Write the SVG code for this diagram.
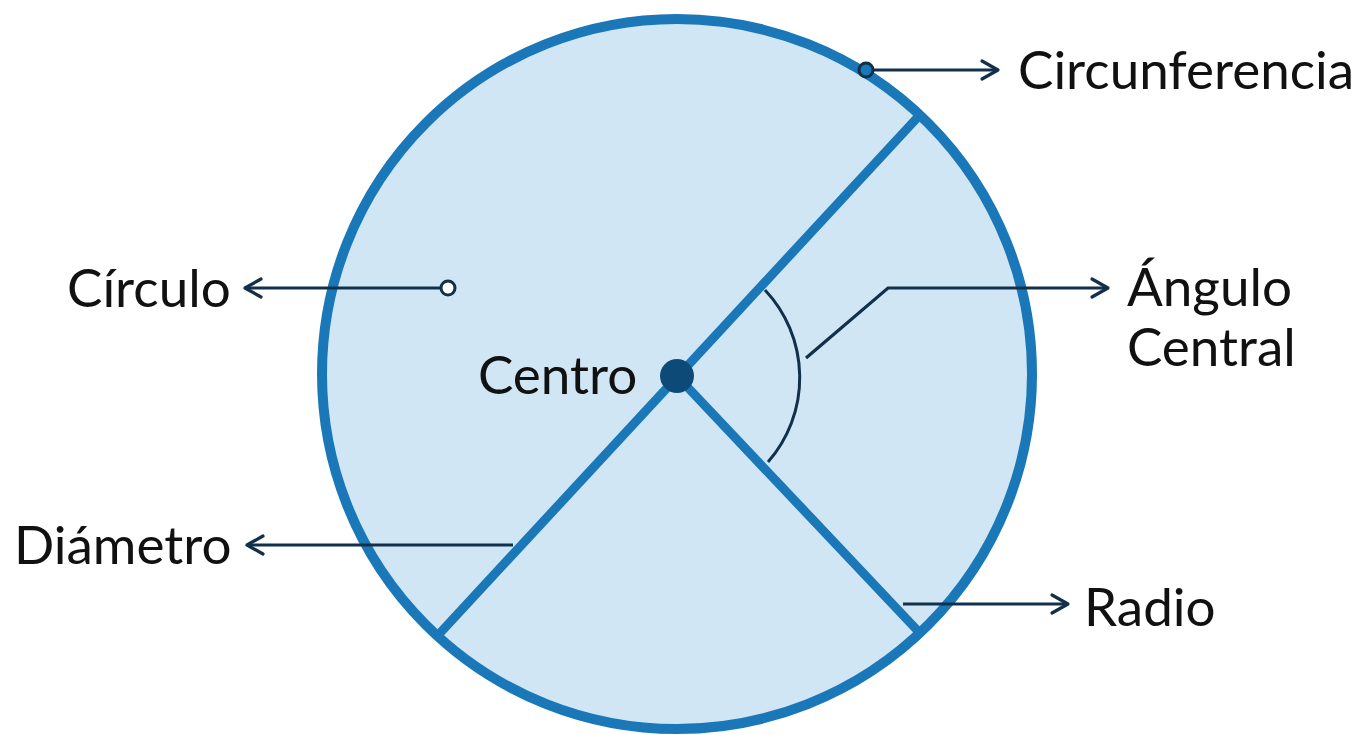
<svg xmlns="http://www.w3.org/2000/svg" width="1362" height="735" viewBox="0 0 1362 735">
<defs>
<marker id="arr" viewBox="0 0 24 24" refX="20" refY="12" markerWidth="24" markerHeight="24" markerUnits="userSpaceOnUse" orient="auto">
<path d="M4,3 L20,12 L4,21" fill="none" stroke="#12304a" stroke-width="3.2" stroke-linecap="round" stroke-linejoin="round"/>
</marker>
</defs>
<style>
.lbl{font-family:Lato,"Noto Sans","Liberation Sans",sans-serif;font-size:53px;fill:#111}
.con{fill:none;stroke:#12304a;stroke-width:3.2}
.seg{stroke:#1b78b8;stroke-width:9;stroke-linecap:round}
</style>
<rect width="1362" height="735" fill="#ffffff"/>
<g id="circle">
<circle cx="677" cy="374" r="355" fill="#d1e6f4" stroke="#1b78b8" stroke-width="10"/>
</g>
<g id="diameter">
<line class="seg" x1="441" y1="632" x2="917" y2="118"/>
</g>
<g id="radius">
<line class="seg" x1="677" y1="376" x2="917" y2="630"/>
</g>
<g id="angle">
<path d="M765,290 A128,128 0 0 1 768,462" fill="none" stroke="#12304a" stroke-width="3"/>
</g>
<g id="center">
<circle cx="677" cy="376" r="17" fill="#0e4a78"/>
</g>
<g id="connectors">
<line class="con" x1="874" y1="70" x2="998" y2="70" marker-end="url(#arr)"/>
<line class="con" x1="441" y1="288" x2="245" y2="288" marker-end="url(#arr)"/>
<polyline class="con" points="806,358 888,288 1108,288" marker-end="url(#arr)"/>
<line class="con" x1="513" y1="545" x2="247" y2="545" marker-end="url(#arr)"/>
<line class="con" x1="903" y1="604" x2="1068" y2="604" marker-end="url(#arr)"/>
<circle cx="866" cy="70" r="7" fill="#1b78b8" stroke="#12304a" stroke-width="3"/>
<circle cx="448" cy="288" r="7" fill="#ffffff" stroke="#12304a" stroke-width="3"/>
</g>
<g id="labels">
<text class="lbl" x="1018" y="89">Circunferencia</text>
<text class="lbl" x="67" y="307">Círculo</text>
<text class="lbl" x="1127" y="306">Ángulo</text>
<text class="lbl" x="1127" y="366">Central</text>
<text class="lbl" x="478" y="394">Centro</text>
<text class="lbl" x="14" y="564">Diámetro</text>
<text class="lbl" x="1084" y="626">Radio</text>
</g>
</svg>
